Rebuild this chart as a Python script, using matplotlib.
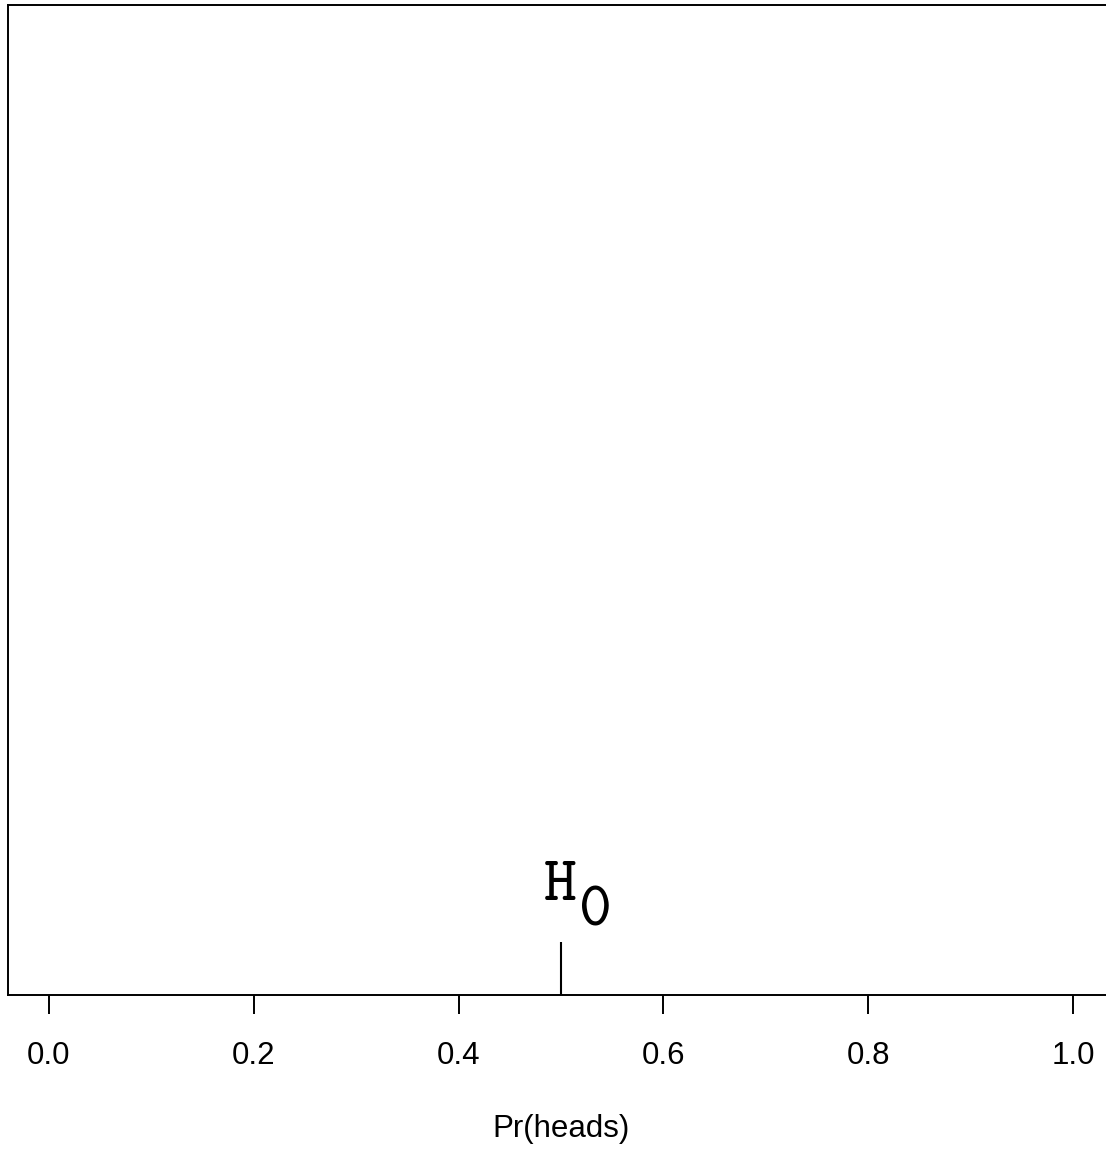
import matplotlib
matplotlib.use("Agg")
import matplotlib.pyplot as plt

# Null hypothesis location on the probability scale
h0_value = 0.5
h0_marker_height = 0.054
xticks = [0.0, 0.2, 0.4, 0.6, 0.8, 1.0]
xtick_labels = ["0.0", "0.2", "0.4", "0.6", "0.8", "1.0"]
x_label = "Pr(heads)"

W, H = 1106, 1155
fig = plt.figure(figsize=(W / 100, H / 100), dpi=100)

# Plot box: its right edge runs past the figure edge
left_px, right_px, top_px, bottom_px = 8, 1114, 5, 995
ax = fig.add_axes([left_px / W, 1 - bottom_px / H,
                   (right_px - left_px) / W, (bottom_px - top_px) / H])
ax.set_xlim(-0.04, 1.04)
ax.set_ylim(0, 1)

for side in ["left", "top", "bottom", "right"]:
    ax.spines[side].set_linewidth(1.4)
    ax.spines[side].set_color("black")

sans = "Liberation Sans"
ax.set_yticks([])
ax.set_xticks(xticks)
ax.set_xticklabels(xtick_labels, fontfamily=sans, fontsize=22.5)
ax.tick_params(axis="x", direction="out", length=14, width=1.4, pad=19,
               colors="black")
ax.set_xlabel(x_label, fontfamily=sans, fontsize=22.5, labelpad=31)

# Vertical mark at the null value
ax.plot([h0_value, h0_value], [0, h0_marker_height], color="black", lw=1.5,
        solid_capstyle="butt")

# H0 label in a typewriter face, subscript drawn at full size
mono = "cmtt10"
ax.annotate("H", xy=(h0_value, h0_marker_height), xycoords="data",
            xytext=(-17, 42), textcoords="offset pixels",
            ha="left", va="baseline", fontfamily=mono, fontsize=45)
ax.annotate("0", xy=(h0_value, h0_marker_height), xycoords="data",
            xytext=(18, 16), textcoords="offset pixels",
            ha="left", va="baseline", fontfamily=mono, fontsize=45)

fig.savefig("out.png", dpi=100)
